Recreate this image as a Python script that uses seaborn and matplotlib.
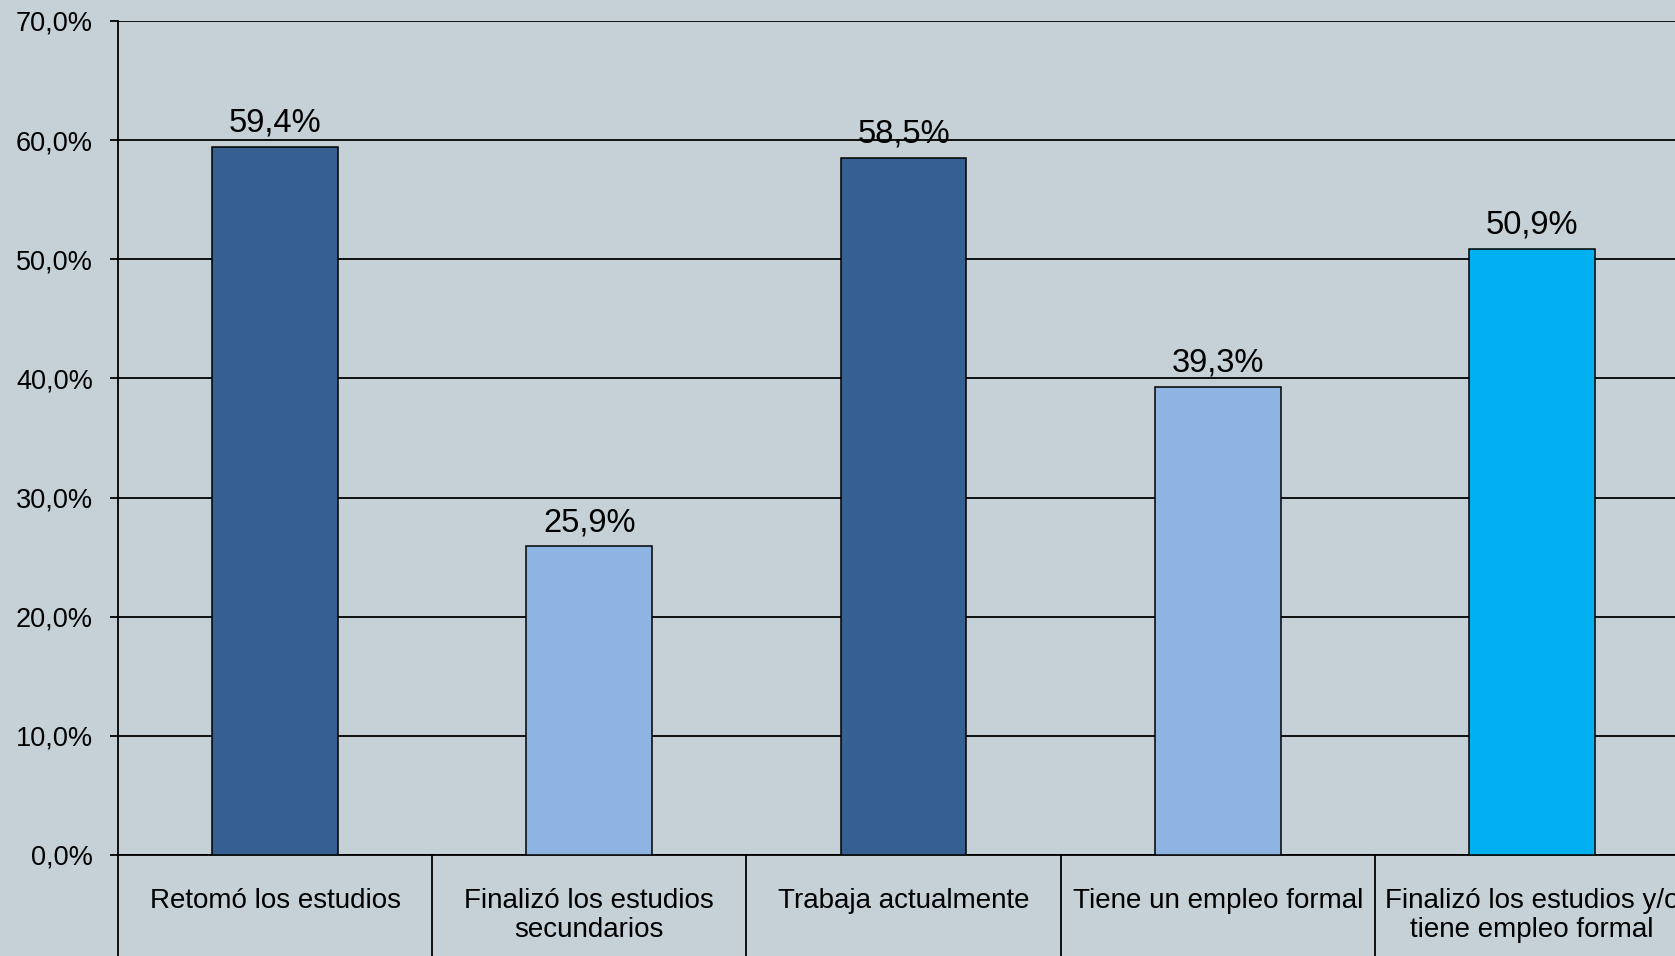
import seaborn as sns
import matplotlib.pyplot as plt
from matplotlib.ticker import FuncFormatter

# data
categories = ['Retomó los estudios', 'Finalizó los estudios\nsecundarios', 'Trabaja actualmente',
              'Tiene un empleo formal', 'Finalizó los estudios y/o\ntiene empleo formal']
values = [59.4, 25.9, 58.5, 39.3, 50.9]
bar_colors = ['#376092', '#8EB4E3', '#376092', '#8EB4E3', '#00B0F0']
y_ticks = [0, 10, 20, 30, 40, 50, 60, 70]

bg = '#C5D1D7'
sns.set_style('white')
plt.rcParams['font.family'] = ['Liberation Sans', 'DejaVu Sans']
plt.rcParams['text.color'] = 'black'
plt.rcParams['xtick.color'] = 'black'
plt.rcParams['ytick.color'] = 'black'

fig = plt.figure(figsize=(16.75, 9.56), dpi=100, facecolor=bg)
# axes runs a little past the right edge, as in the reference
ax = fig.add_axes([118 / 1675, 101 / 956, 1571 / 1675, 834 / 956])
ax.set_facecolor(bg)

sns.barplot(x=categories, y=values, hue=categories, palette=bar_colors, width=0.4, saturation=1,
            edgecolor='black', linewidth=1.1, legend=False, ax=ax, zorder=3)

ax.set_ylim(0, 70)
ax.set_xlim(-0.5, len(categories) - 0.5)
ax.set_yticks(y_ticks)
ax.yaxis.set_major_formatter(FuncFormatter(lambda v, p: f'{v:.1f}%'.replace('.', ',')))
ax.grid(axis='y', color='black', linewidth=1.3, zorder=0)
ax.set_axisbelow(True)

for s in ['top', 'right']:
    ax.spines[s].set_visible(False)
ax.spines['left'].set_linewidth(1.3)
ax.spines['bottom'].set_linewidth(1.3)
ax.spines['left'].set_color('black')
ax.spines['bottom'].set_color('black')

ax.tick_params(axis='y', direction='out', length=6, width=1.3, pad=12, labelsize=19.5, left=True)
# category boxes: long minor ticks between categories
ax.set_xticks([i - 0.5 for i in range(len(categories) + 1)], minor=True)
ax.tick_params(axis='x', which='minor', direction='out', length=90, width=1.3, bottom=True)
ax.tick_params(axis='x', which='major', length=0, pad=24, labelsize=20)
for lbl in ax.get_xticklabels():
    lbl.set_linespacing(1.15)
    lbl.set_verticalalignment('top')

ax.set_xlabel('')
ax.set_ylabel('')

for i, v in enumerate(values):
    ax.annotate(f'{v:.1f}%'.replace('.', ','), (i, v), xytext=(0, 6), textcoords='offset points',
                ha='center', va='bottom', fontsize=23.5)

fig.savefig('out.png', dpi=100, facecolor=bg)
